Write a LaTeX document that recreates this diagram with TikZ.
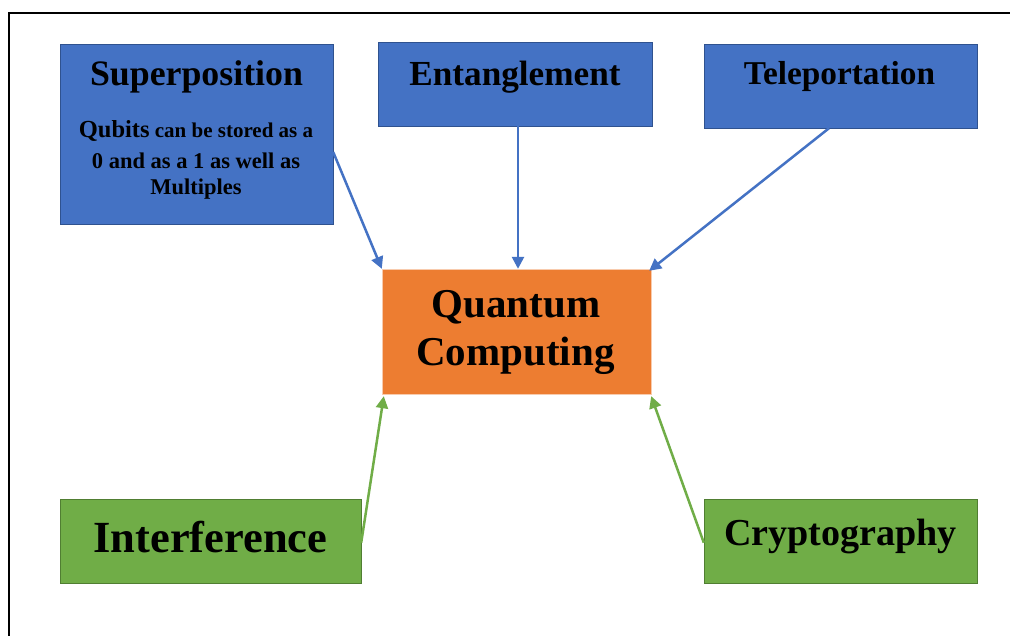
\documentclass[tikz,border=0pt]{standalone}
\usepackage{fontspec}
\setmainfont{Liberation Serif}
\usetikzlibrary{arrows.meta,calc}
\definecolor{qblue}{HTML}{4472C4}
\definecolor{qblueb}{HTML}{2F528F}
\definecolor{qgreen}{HTML}{70AD47}
\definecolor{qgreenb}{HTML}{507E32}
\definecolor{qorange}{HTML}{ED7D31}
\definecolor{qorangeb}{HTML}{F8CBAD}
\tikzset{
  bluebox/.style={draw=qblueb, fill=qblue, line width=1pt},
  greenbox/.style={draw=qgreenb, fill=qgreen, line width=1pt},
  orangebox/.style={draw=qorangeb, fill=qorange, line width=0.8pt},
  lbl/.style={anchor=base, inner sep=0pt, font=\bfseries},
  barrow/.style={draw=qblue, line width=2.5pt, -{Triangle[length=12pt,width=12pt]}},
  garrow/.style={draw=qgreen, line width=2.5pt, -{Triangle[length=12pt,width=12pt]}},
}
\begin{document}
\begin{tikzpicture}[x=1pt,y=-1pt]
\useasboundingbox (0,0) rectangle (1010,635);
\fill[white] (0,0) rectangle (1010,635);
\draw[line width=1.8pt] (1012,13) -- (9,13) -- (9,637);
% boxes
\path[bluebox] (60,44) rectangle (333,224);
\path[bluebox] (378,42) rectangle (652,126);
\path[bluebox] (704,44) rectangle (977,128);
\path[orangebox] (382,269) rectangle (651,394);
\path[greenbox] (60,499) rectangle (361,583);
\path[greenbox] (704,499) rectangle (977,583);
% named box nodes (invisible outlines)
\node[inner sep=0pt, minimum width=273pt, minimum height=180pt] (sup) at (196.5,134) {};
\node[inner sep=0pt, minimum width=274pt, minimum height=84pt] (ent) at (515,84) {};
\node[inner sep=0pt, minimum width=273pt, minimum height=84pt] (tel) at (840.5,86) {};
\node[inner sep=0pt, minimum width=269pt, minimum height=125pt] (qc) at (516.5,331.5) {};
\node[inner sep=0pt, minimum width=301pt, minimum height=84pt] (int) at (210.5,541) {};
\node[inner sep=0pt, minimum width=273pt, minimum height=84pt] (cry) at (840.5,541) {};
% texts
\node[lbl, font=\bfseries\fontsize{35.8}{36}\selectfont] (t1) at (196.5,85) {Superposition};
\node[lbl] (t1a) at (196,137) {{\fontsize{24.5}{25}\selectfont Qubits}\fontsize{21}{22}\selectfont{} can be stored as a};
\node[lbl, font=\bfseries\fontsize{22.5}{23}\selectfont] (t1b) at (196,168) {0 and as a 1 as well as};
\node[lbl, font=\bfseries\fontsize{22.5}{23}\selectfont] (t1c) at (196,194) {Multiples};
\node[lbl, font=\bfseries\fontsize{35.2}{36}\selectfont] (t2) at (515,85) {Entanglement};
\node[lbl, font=\bfseries\fontsize{33.3}{34}\selectfont] (t3) at (839.5,84) {Teleportation};
\node[lbl, font=\bfseries\fontsize{41}{42}\selectfont] (t4) at (516,317) {Quantum};
\node[lbl, font=\bfseries\fontsize{41}{42}\selectfont] (t5) at (515.5,365) {Computing};
\node[lbl, font=\bfseries\fontsize{44.5}{45}\selectfont] (t6) at (210.5,552) {Interference};
\node[lbl, font=\bfseries\fontsize{38.1}{39}\selectfont] (t7) at (840.5,545) {Cryptography};
% connectors
\draw[barrow] ($(sup.north east)!0.6!(sup.south east)$) -- (qc.north west);
\draw[barrow] (ent.south -| 518,0) -- (qc.north -| 518,0);
\draw[barrow] ($(tel.south west)!0.458!(tel.south east)$) -- ($(qc.north east)+(-2,2)$);
\draw[garrow] ($(int.north east)!0.52!(int.south east)$) -- ($(qc.south west)+(2,2)$);
\draw[garrow] ($(cry.north west)!0.52!(cry.south west)$) -- ($(qc.south east)+(0,2)$);
\end{tikzpicture}
\end{document}
